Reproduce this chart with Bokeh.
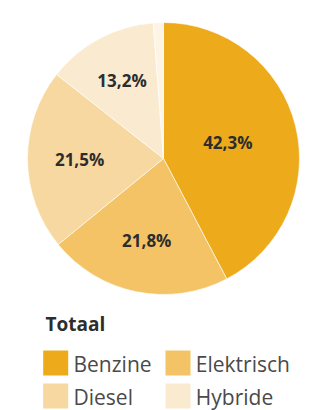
import math
from bokeh.plotting import figure
from bokeh.models import ColumnDataSource, Range1d
from bokeh.core.properties import value
from bokeh.embed import file_html
from bokeh.resources import INLINE

# ---- data ----
categories = ["Benzine", "Elektrisch", "Diesel", "Hybride", "Overig"]
shares = [42.3, 21.8, 21.5, 13.2, 1.2]
pct_labels = ["42,3%", "21,8%", "21,5%", "13,2%", ""]
colors = ["#EDAB1C", "#F3C366", "#F8D8A1", "#FAEBD0", "#FDF4E6"]
legend_title = "Totaal"
legend_items = ["Benzine", "Elektrisch", "Diesel", "Hybride"]

# ---- geometry ----
R = 136
total = sum(shares)
starts, ends, lx, ly = [], [], [], []
cum = 0.0
for s in shares:
    a0 = math.pi / 2 - 2 * math.pi * cum / total
    cum += s
    a1 = math.pi / 2 - 2 * math.pi * cum / total
    starts.append(a0)
    ends.append(a1)
    theta = a0 - a1
    mid = (a0 + a1) / 2
    d = 4 * R * math.sin(theta / 2) / (3 * theta)
    lx.append(d * math.cos(mid))
    ly.append(d * math.sin(mid))

src = ColumnDataSource(dict(cat=categories, start=starts, end=ends, color=colors,
                            lab=pct_labels, lx=lx, ly=ly))

p = figure(width=312, height=410, output_backend="svg", toolbar_location=None,
           x_range=Range1d(-163, 149), y_range=Range1d(-252, 158),
           min_border=0, outline_line_color=None, background_fill_color="white",
           border_fill_color="white")
p.axis.visible = False
p.grid.visible = False

p.wedge(x=0, y=0, radius=R, start_angle="start", end_angle="end", direction="clock",
        fill_color="color", line_color="white", line_width=0.6, source=src)
p.text(x="lx", y="ly", text="lab", source=src, text_align="center", text_baseline="middle",
       text_font=value("Open Sans"), text_font_size="17px", text_font_style="bold",
       text_color="#2d2d2d")

# ---- legend (manual grid) ----
p.text(x=[-118], y=[-165], text=[legend_title], text_font=value("Open Sans"),
       text_font_size="19px", text_font_style="bold", text_color="#2d2d2d",
       text_baseline="middle")

sq_x, sq_y, tx, ty, lc = [], [], [], [], []
for i, name in enumerate(legend_items):
    col, row = i % 2, i // 2
    cx = -107.8 + col * 122.3
    cy = -204.5 - row * 33
    sq_x.append(cx)
    sq_y.append(cy)
    tx.append(cx + 17.8)
    ty.append(cy - 0.5)
    lc.append(colors[categories.index(name)])

p.rect(x=sq_x, y=sq_y, width=25, height=25, fill_color=lc, line_color=None)
p.text(x=tx, y=ty, text=legend_items, text_font=value("Open Sans"), text_font_size="21px",
       text_color="#4a4a4a", text_baseline="middle")

open("out.html", "w").write(file_html(p, INLINE))
